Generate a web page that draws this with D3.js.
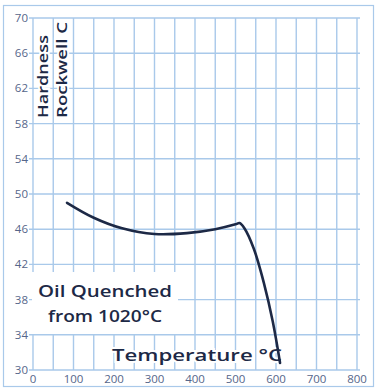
<!DOCTYPE html>
<html>
<head>
<meta charset="utf-8">
<script src="https://cdn.jsdelivr.net/npm/d3@7"></script>
<style>
  body { margin: 0; background: #fff; }
  svg { display: block; font-family: "Open Sans", "Liberation Sans", Arial, sans-serif; }
</style>
</head>
<body>
<script>
const width = 377;
const height = 389;

// tempering curve
const temps = [84, 150, 220, 300, 380, 450, 500, 510, 522, 545, 570, 592, 610];
const hardness = [49.0, 47.3, 46.1, 45.45, 45.55, 46.0, 46.55, 46.7, 46.1, 43.8, 39.9, 35.5, 30.8];

const xTicks = [0, 100, 200, 300, 400, 500, 600, 700, 800];
const yTicks = [30, 34, 38, 42, 46, 50, 54, 58, 62, 66, 70];
const xGrid = d3.range(0, 801, 50);

const margin = {left: 33, right: 20, top: 18, bottom: 19};

const x = d3.scaleLinear().domain([0, 800]).range([margin.left, width - margin.right]);
const y = d3.scaleLinear().domain([30, 70]).range([height - margin.bottom, margin.top]);

const gridColor = "#a9c9ea";
const ink = "#1d2946";
const tickInk = "#56668a";

const svg = d3.select("body").append("svg")
  .attr("width", width)
  .attr("height", height);

// outer frame
svg.append("rect")
  .attr("x", 3.5).attr("y", 5.5)
  .attr("width", width - 7).attr("height", height - 8)
  .attr("fill", "none")
  .attr("stroke", gridColor)
  .attr("stroke-width", 1.2);

const grid = svg.append("g")
  .attr("stroke", gridColor)
  .attr("stroke-width", 1.4);

grid.selectAll("line.v")
  .data(xGrid)
  .join("line")
  .attr("class", "v")
  .attr("x1", d => x(d)).attr("x2", d => x(d))
  .attr("y1", y(70)).attr("y2", y(30));

grid.selectAll("line.h")
  .data(yTicks)
  .join("line")
  .attr("class", "h")
  .attr("x1", x(0) - 4).attr("x2", x(800) + 3)
  .attr("y1", d => y(d)).attr("y2", d => y(d));

// tick labels
svg.append("g")
  .attr("fill", tickInk)
  .attr("font-size", 11.5)
  .attr("text-anchor", "end")
  .selectAll("text")
  .data(yTicks)
  .join("text")
  .attr("x", x(0) - 5)
  .attr("y", d => y(d) + 4)
  .text(d => d);

svg.append("g")
  .attr("fill", tickInk)
  .attr("font-size", 11.5)
  .attr("text-anchor", "middle")
  .selectAll("text")
  .data(xTicks)
  .join("text")
  .attr("x", d => x(d))
  .attr("y", height - 6)
  .text(d => d);

// note box
svg.append("rect")
  .attr("x", x(0) - 1).attr("y", 272)
  .attr("width", 146).attr("height", 62)
  .attr("fill", "#fff");

const note = svg.append("g")
  .attr("fill", ink)
  .attr("font-size", 17)
  .attr("font-weight", 600)
  .attr("text-anchor", "middle");
note.append("text").attr("x", 105).attr("y", 297)
  .attr("textLength", 134).attr("lengthAdjust", "spacingAndGlyphs")
  .text("Oil Quenched");
note.append("text").attr("x", 105).attr("y", 322)
  .attr("textLength", 114).attr("lengthAdjust", "spacingAndGlyphs")
  .text("from 1020°C");

// axis titles with white backing
svg.append("text")
  .attr("x", 112).attr("y", 361)
  .attr("font-size", 17)
  .attr("font-weight", 600)
  .attr("fill", ink)
  .attr("stroke", "#fff")
  .attr("stroke-width", 4)
  .attr("paint-order", "stroke")
  .attr("textLength", 170).attr("lengthAdjust", "spacingAndGlyphs")
  .text("Temperature °C");

const yTitle = svg.append("g")
  .attr("transform", "rotate(-90)")
  .attr("font-size", 15)
  .attr("font-weight", 600)
  .attr("fill", ink)
  .attr("stroke", "#fff")
  .attr("stroke-width", 4)
  .attr("paint-order", "stroke");
yTitle.append("text").attr("x", -118).attr("y", 48)
  .attr("textLength", 83).attr("lengthAdjust", "spacingAndGlyphs")
  .text("Hardness");
yTitle.append("text").attr("x", -118).attr("y", 67)
  .attr("textLength", 96).attr("lengthAdjust", "spacingAndGlyphs")
  .text("Rockwell C");

// curve
const line = d3.line()
  .x(d => x(d[0]))
  .y(d => y(d[1]))
  .curve(d3.curveCatmullRom.alpha(0.5));

svg.append("path")
  .datum(d3.zip(temps, hardness))
  .attr("fill", "none")
  .attr("stroke", ink)
  .attr("stroke-width", 2.6)
  .attr("stroke-linecap", "round")
  .attr("d", line);
</script>
</body>
</html>
